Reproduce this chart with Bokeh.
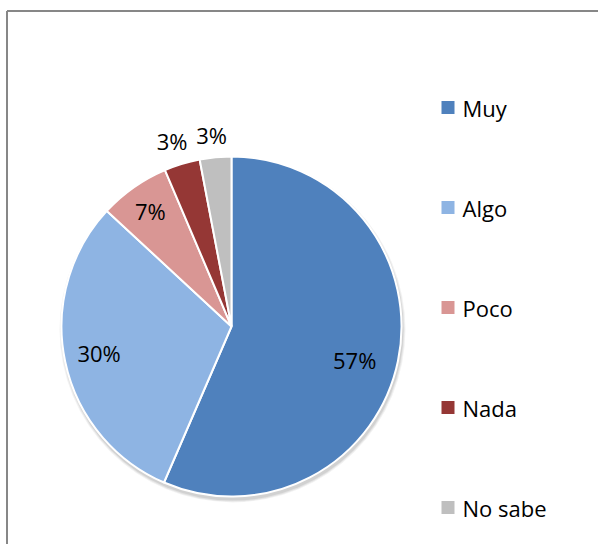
import math
from bokeh.plotting import figure
from bokeh.models import Range1d, ColumnDataSource
from bokeh.core.properties import value
from bokeh.embed import file_html
from bokeh.resources import INLINE

# data
categories = ["Muy", "Algo", "Poco", "Nada", "No sabe"]
shares = [56.5, 30.4, 6.7, 3.4, 3.0]
labels = ["57%", "30%", "7%", "3%", "3%"]
colors = ["#4F81BD", "#8EB4E3", "#D99694", "#953735", "#BFBFBF"]

W, H = 598, 544
p = figure(width=W, height=H, output_backend="svg", toolbar_location=None,
           x_range=Range1d(0, W), y_range=Range1d(0, H), min_border=0)
p.axis.visible = False
p.grid.visible = False
p.outline_line_color = None
p.background_fill_color = "white"

# frame (top and left edges only visible)
p.line([6.5, 6.5], [0, H - 10.5], line_color="#878787", line_width=2)
p.line([6.5, W], [H - 10.5, H - 10.5], line_color="#878787", line_width=2)

cx, cy, r = 231, H - 326, 170

# soft shadow
for i, a in enumerate([0.05, 0.06, 0.08]):
    p.circle(x=cx + 1, y=cy - 3, radius=r + 3 - i, fill_color="black",
             fill_alpha=a, line_color=None)

total = sum(shares)
starts, ends = [], []
cum = 0.0
for s in shares:
    starts.append(math.pi / 2 - 2 * math.pi * cum / total)
    cum += s
    ends.append(math.pi / 2 - 2 * math.pi * cum / total)

src = ColumnDataSource(dict(start=starts, end=ends, color=colors, cat=categories))
p.wedge(x=cx, y=cy, radius=r, start_angle="start", end_angle="end",
        direction="clock", fill_color="color", line_color="white",
        line_width=2, source=src)

# data labels: inside for large slices, outside for small ones
radii = [0.74, 0.76, 0.80, 1.12, 1.12]
nudges = [(0, 8), (-6, 0), (-3, -4), (-4, -3), (-2, -2)]  # screen px
lx, ly = [], []
for i in range(len(labels)):
    mid = (starts[i] + ends[i]) / 2
    rr = radii[i] * r
    lx.append(cx + rr * math.cos(mid) + nudges[i][0])
    ly.append(cy + rr * math.sin(mid) - nudges[i][1])
p.text(x=lx, y=ly, text=labels, text_align="center", text_baseline="middle",
       text_font=value("Open Sans"), text_font_size="22px", text_color="black")

# legend
leg_x = 447.5
leg_y = [H - (107 + 100 * i) for i in range(len(categories))]
p.scatter(x=[leg_x] * len(categories), y=leg_y, marker="square", size=13,
          fill_color=colors, line_color=None)
p.text(x=[leg_x + 14.5] * len(categories), y=leg_y, text=categories,
       text_align="left", text_baseline="middle",
       text_font=value("Open Sans"), text_font_size="22px", text_color="black")

open("out.html", "w").write(file_html(p, INLINE))
